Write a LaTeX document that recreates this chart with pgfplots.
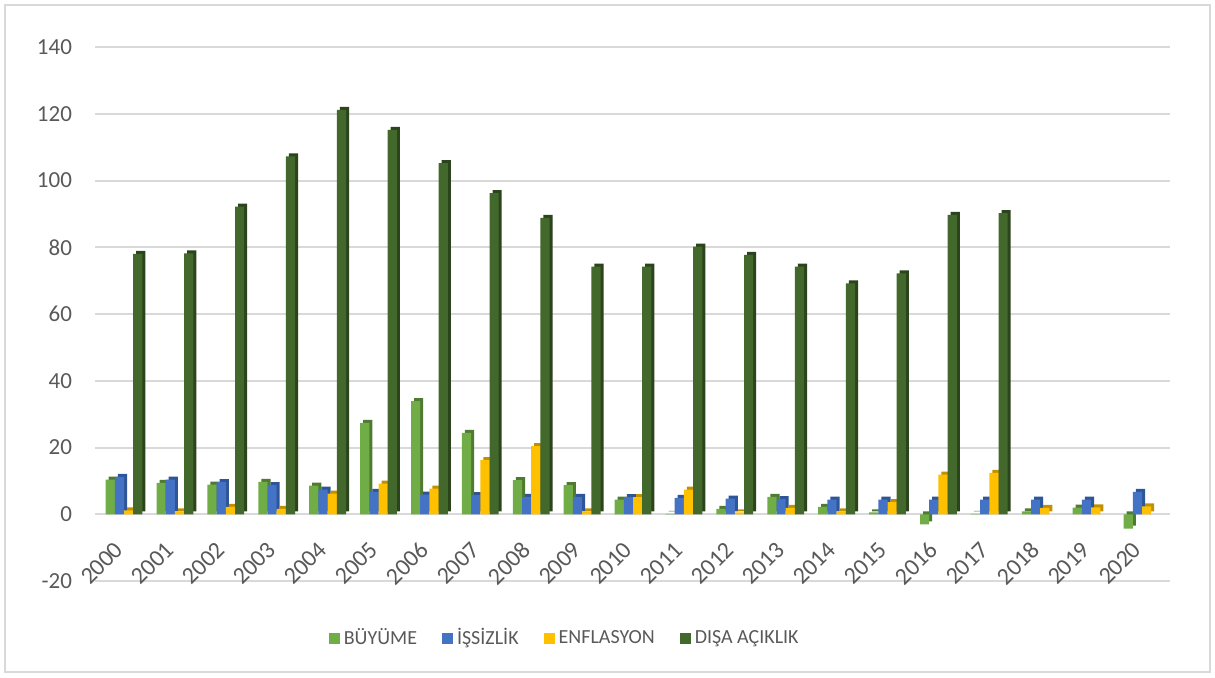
\documentclass[border=0pt]{standalone}
\usepackage{fontspec}
\setmainfont{Carlito}
\usepackage{pgfplots}
\pgfplotsset{compat=1.18}
\definecolor{cgreen}{HTML}{70AD47}
\definecolor{cblue}{HTML}{4472C4}
\definecolor{cyellow}{HTML}{FFC000}
\definecolor{cdark}{HTML}{43682B}
\definecolor{sgreen}{HTML}{4F7A31}
\definecolor{sblue}{HTML}{2E5597}
\definecolor{syellow}{HTML}{C09000}
\definecolor{sdark}{HTML}{2B441C}
\definecolor{ctext}{HTML}{595959}
\definecolor{cgrid}{HTML}{D9D9D9}
\pgfplotstableread{
x  g     b     y     d
0  10.4  11.2  1.2   78.0
1  9.4   10.4  0.9   78.2
2  8.9   9.6   2.2   92.2
3  9.7   8.7   1.6   107.2
4  8.6   7.4   6.2   121.2
5  27.4  6.7   9.2   115.2
6  33.9  5.9   7.7   105.2
7  24.4  5.7   16.2  96.2
8  10.2  5.2   20.4  88.8
9  8.7   5.2   0.9   74.2
10 4.4   5.1   5.1   74.2
11 0.1   4.9   7.4   80.2
12 1.6   4.7   0.6   77.7
13 5.2   4.5   1.9   74.2
14 2.2   4.4   0.9   69.2
15 0.6   4.4   3.6   72.2
16 -3.0  4.4   11.9  89.7
17 0.1   4.4   12.4  90.2
18 0.9   4.4   1.9   nan
19 2.0   4.4   2.1   nan
20 -4.3  6.7   2.4   nan
}\data
\begin{document}
\begin{tikzpicture}
\path (0pt,0pt) rectangle (607.5pt,338.5pt);
\draw[cgrid, line width=0.8pt] (2.5pt,2.5pt) rectangle (605pt,336pt);
\begin{axis}[
  at={(47.5pt,48pt)}, anchor=south west, scale only axis,
  width=537.5pt, height=267pt,
  ymin=-20, ymax=140, ytick={-20,0,20,...,140},
  xmin=-0.57, xmax=20.55,
  xtick={0,...,20},
  xticklabels={2000,2001,2002,2003,2004,2005,2006,2007,2008,2009,2010,2011,2012,2013,2014,2015,2016,2017,2018,2019,2020},
  axis line style={draw=none}, major tick length=0pt,
  ymajorgrids, grid style={cgrid, line width=1pt},
  ybar=0pt, bar width=4.6pt,
  unbounded coords=jump,
  /pgf/number format/assume math mode=true,
  yticklabel style={font=\fontsize{11.5}{13}\selectfont, text=ctext, xshift=-8pt},
  xticklabel style={font=\fontsize{12}{14}\selectfont, text=ctext, yshift=20pt, rotate=45, anchor=east},
  legend columns=4,
  legend style={at={(0.2116,-0.107)}, anchor=west, draw=none, fill=none,
    font=\fontsize{10}{12}\selectfont, text=ctext,
    /tikz/every even column/.append style={column sep=10.5pt}},
  legend image code/.code={\fill[#1] (0pt,-2.75pt) rectangle (5.5pt,2.75pt);},
]
% depth (3D side and top faces)
\addplot[forget plot, fill=sgreen, draw=none, bar shift=-5.4pt, yshift=1.5pt] table[x=x,y=g] {\data};
\addplot[forget plot, fill=sblue, draw=none, bar shift=-0.8pt, yshift=1.5pt] table[x=x,y=b] {\data};
\addplot[forget plot, fill=syellow, draw=none, bar shift=3.8pt, yshift=1.5pt] table[x=x,y=y] {\data};
\addplot[forget plot, fill=sdark, draw=none, bar shift=8.4pt, yshift=1.5pt] table[x=x,y=d] {\data};
% front faces
\addplot[fill=cgreen, draw=none, bar shift=-6.9pt] table[x=x,y=g] {\data};
\addplot[fill=cblue, draw=none, bar shift=-2.3pt] table[x=x,y=b] {\data};
\addplot[fill=cyellow, draw=none, bar shift=2.3pt] table[x=x,y=y] {\data};
\addplot[fill=cdark, draw=none, bar shift=6.9pt] table[x=x,y=d] {\data};
\legend{BÜYÜME,İŞSİZLİK,ENFLASYON,DIŞA AÇIKLIK}
\end{axis}
\end{tikzpicture}
\end{document}
